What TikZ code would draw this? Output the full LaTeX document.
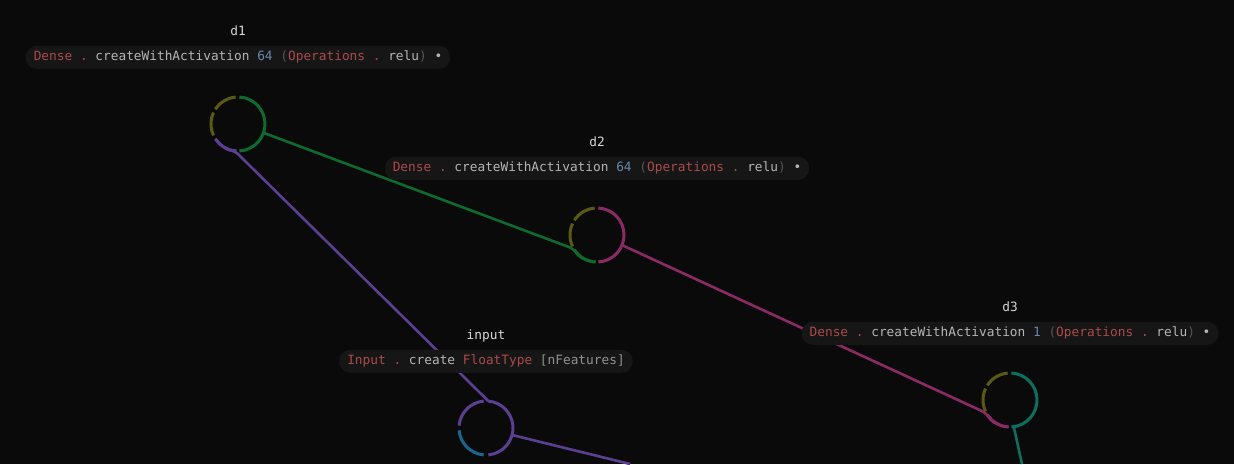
\documentclass[tikz,border=0pt]{standalone}
\usepackage{fontspec}
\usepackage{xcolor}
\usetikzlibrary{positioning}
\newfontfamily\codefont{DejaVu Sans Mono}
\definecolor{bgdark}{HTML}{0A0A0A}
\definecolor{pilldark}{HTML}{161616}
\definecolor{tokred}{HTML}{AC4A4A}
\definecolor{tokgray}{HTML}{B5B5B5}
\definecolor{toknum}{HTML}{6688AA}
\definecolor{tokpar}{HTML}{555555}
\definecolor{titlegray}{HTML}{D8D8D8}
\definecolor{freeolive}{HTML}{5C5A12}
\definecolor{wgreen}{HTML}{0F6A2E}
\definecolor{wmagenta}{HTML}{8C2A66}
\definecolor{wteal}{HTML}{0E6E60}
\definecolor{wpurple}{HTML}{5B3F92}
\definecolor{wblue}{HTML}{17688C}

\newcommand{\tkred}[1]{\textcolor{tokred}{#1}}
\newcommand{\tknum}[1]{\textcolor{toknum}{#1}}
\newcommand{\tkpar}[1]{\textcolor{tokpar}{#1}}
\newcommand{\portring}[5]{%
  \draw[ring, #2] (#1.center) ++(95:27) arc[start angle=95, end angle=147, radius=27];
  \draw[ring, #3] (#1.center) ++(155:27) arc[start angle=155, end angle=205, radius=27];
  \draw[ring, #4] (#1.center) ++(213:27) arc[start angle=213, end angle=267, radius=27];
  \draw[ring, #5] (#1.center) ++(-87:27) arc[start angle=-87, end angle=87, radius=27];
}

\begin{document}
\frenchspacing
\begin{tikzpicture}[x=1pt, y=1pt,
    port/.style={circle, minimum size=54pt, inner sep=0pt, outer sep=0pt},
    codebox/.style={fill=pilldark, rounded corners=11pt, minimum height=23pt,
        inner xsep=8pt, inner ysep=0pt, text=tokgray,
        font=\codefont\fontsize{12.8}{14}\selectfont},
    namelabel/.style={inner sep=0pt, text depth=0pt, text=titlegray,
        font=\codefont\fontsize{12.8}{14}\selectfont},
    ring/.style={line width=3pt},
    wire/.style={line width=2.6pt, rounded corners=5pt}]

    \fill[bgdark] (0,0) rectangle (1234,464);
    \useasboundingbox (0,0) rectangle (1234,464);

    \node[port] (d1) at (238,340) {};
    \node[port] (d2) at (597,229) {};
    \node[port] (d3) at (1010,64) {};
    \node[port] (input) at (486,36) {};

    \coordinate (inputout) at (630,0);
    \coordinate (d3out) at (1022,0);

    \draw[wire, wpurple] (input.85) -- (d1.263) arc[start angle=263, end angle=215, radius=27];
    \draw[wire, wgreen] (d1.-19) -- (d2.211) arc[start angle=211, end angle=267, radius=27];
    \draw[wire, wmagenta] (d2.-22) -- (d3.209) arc[start angle=209, end angle=267, radius=27];
    \draw[wire, wpurple] (input.-15) -- (inputout);
    \draw[wire, wteal] (d3.-82) -- (d3out);

    \portring{d1}{freeolive}{freeolive}{wpurple}{wgreen}
    \portring{d2}{freeolive}{freeolive}{wgreen}{wmagenta}
    \portring{d3}{freeolive}{freeolive}{wmagenta}{wteal}

    \draw[ring, wpurple] (input.center) ++(95:27) arc[start angle=95, end angle=175, radius=27];
    \draw[ring, wblue] (input.center) ++(185:27) arc[start angle=185, end angle=265, radius=27];
    \draw[ring, wpurple] (input.center) ++(-85:27) arc[start angle=-85, end angle=85, radius=27];

    \node[codebox, above=28pt of d1] (d1code) {\tkred{Dense .} createWithActivation \tknum{64} \tkpar{(}\tkred{Operations .} relu\tkpar{)} •};
    \node[codebox, above=28pt of d2] (d2code) {\tkred{Dense .} createWithActivation \tknum{64} \tkpar{(}\tkred{Operations .} relu\tkpar{)} •};
    \node[codebox, above=28pt of d3] (d3code) {\tkred{Dense .} createWithActivation \tknum{1} \tkpar{(}\tkred{Operations .} relu\tkpar{)} •};
    \node[codebox, above=28pt of input] (inputcode) {\tkred{Input .} create \tkred{FloatType} \textcolor{tokgray!80!black}{[nFeatures]}};

    \node[namelabel, above=10pt of d1code] (d1name) {d1};
    \node[namelabel, above=10pt of d2code] (d2name) {d2};
    \node[namelabel, above=10pt of d3code] (d3name) {d3};
    \node[namelabel, above=10pt of inputcode] (inputname) {input};

\end{tikzpicture}
\end{document}
